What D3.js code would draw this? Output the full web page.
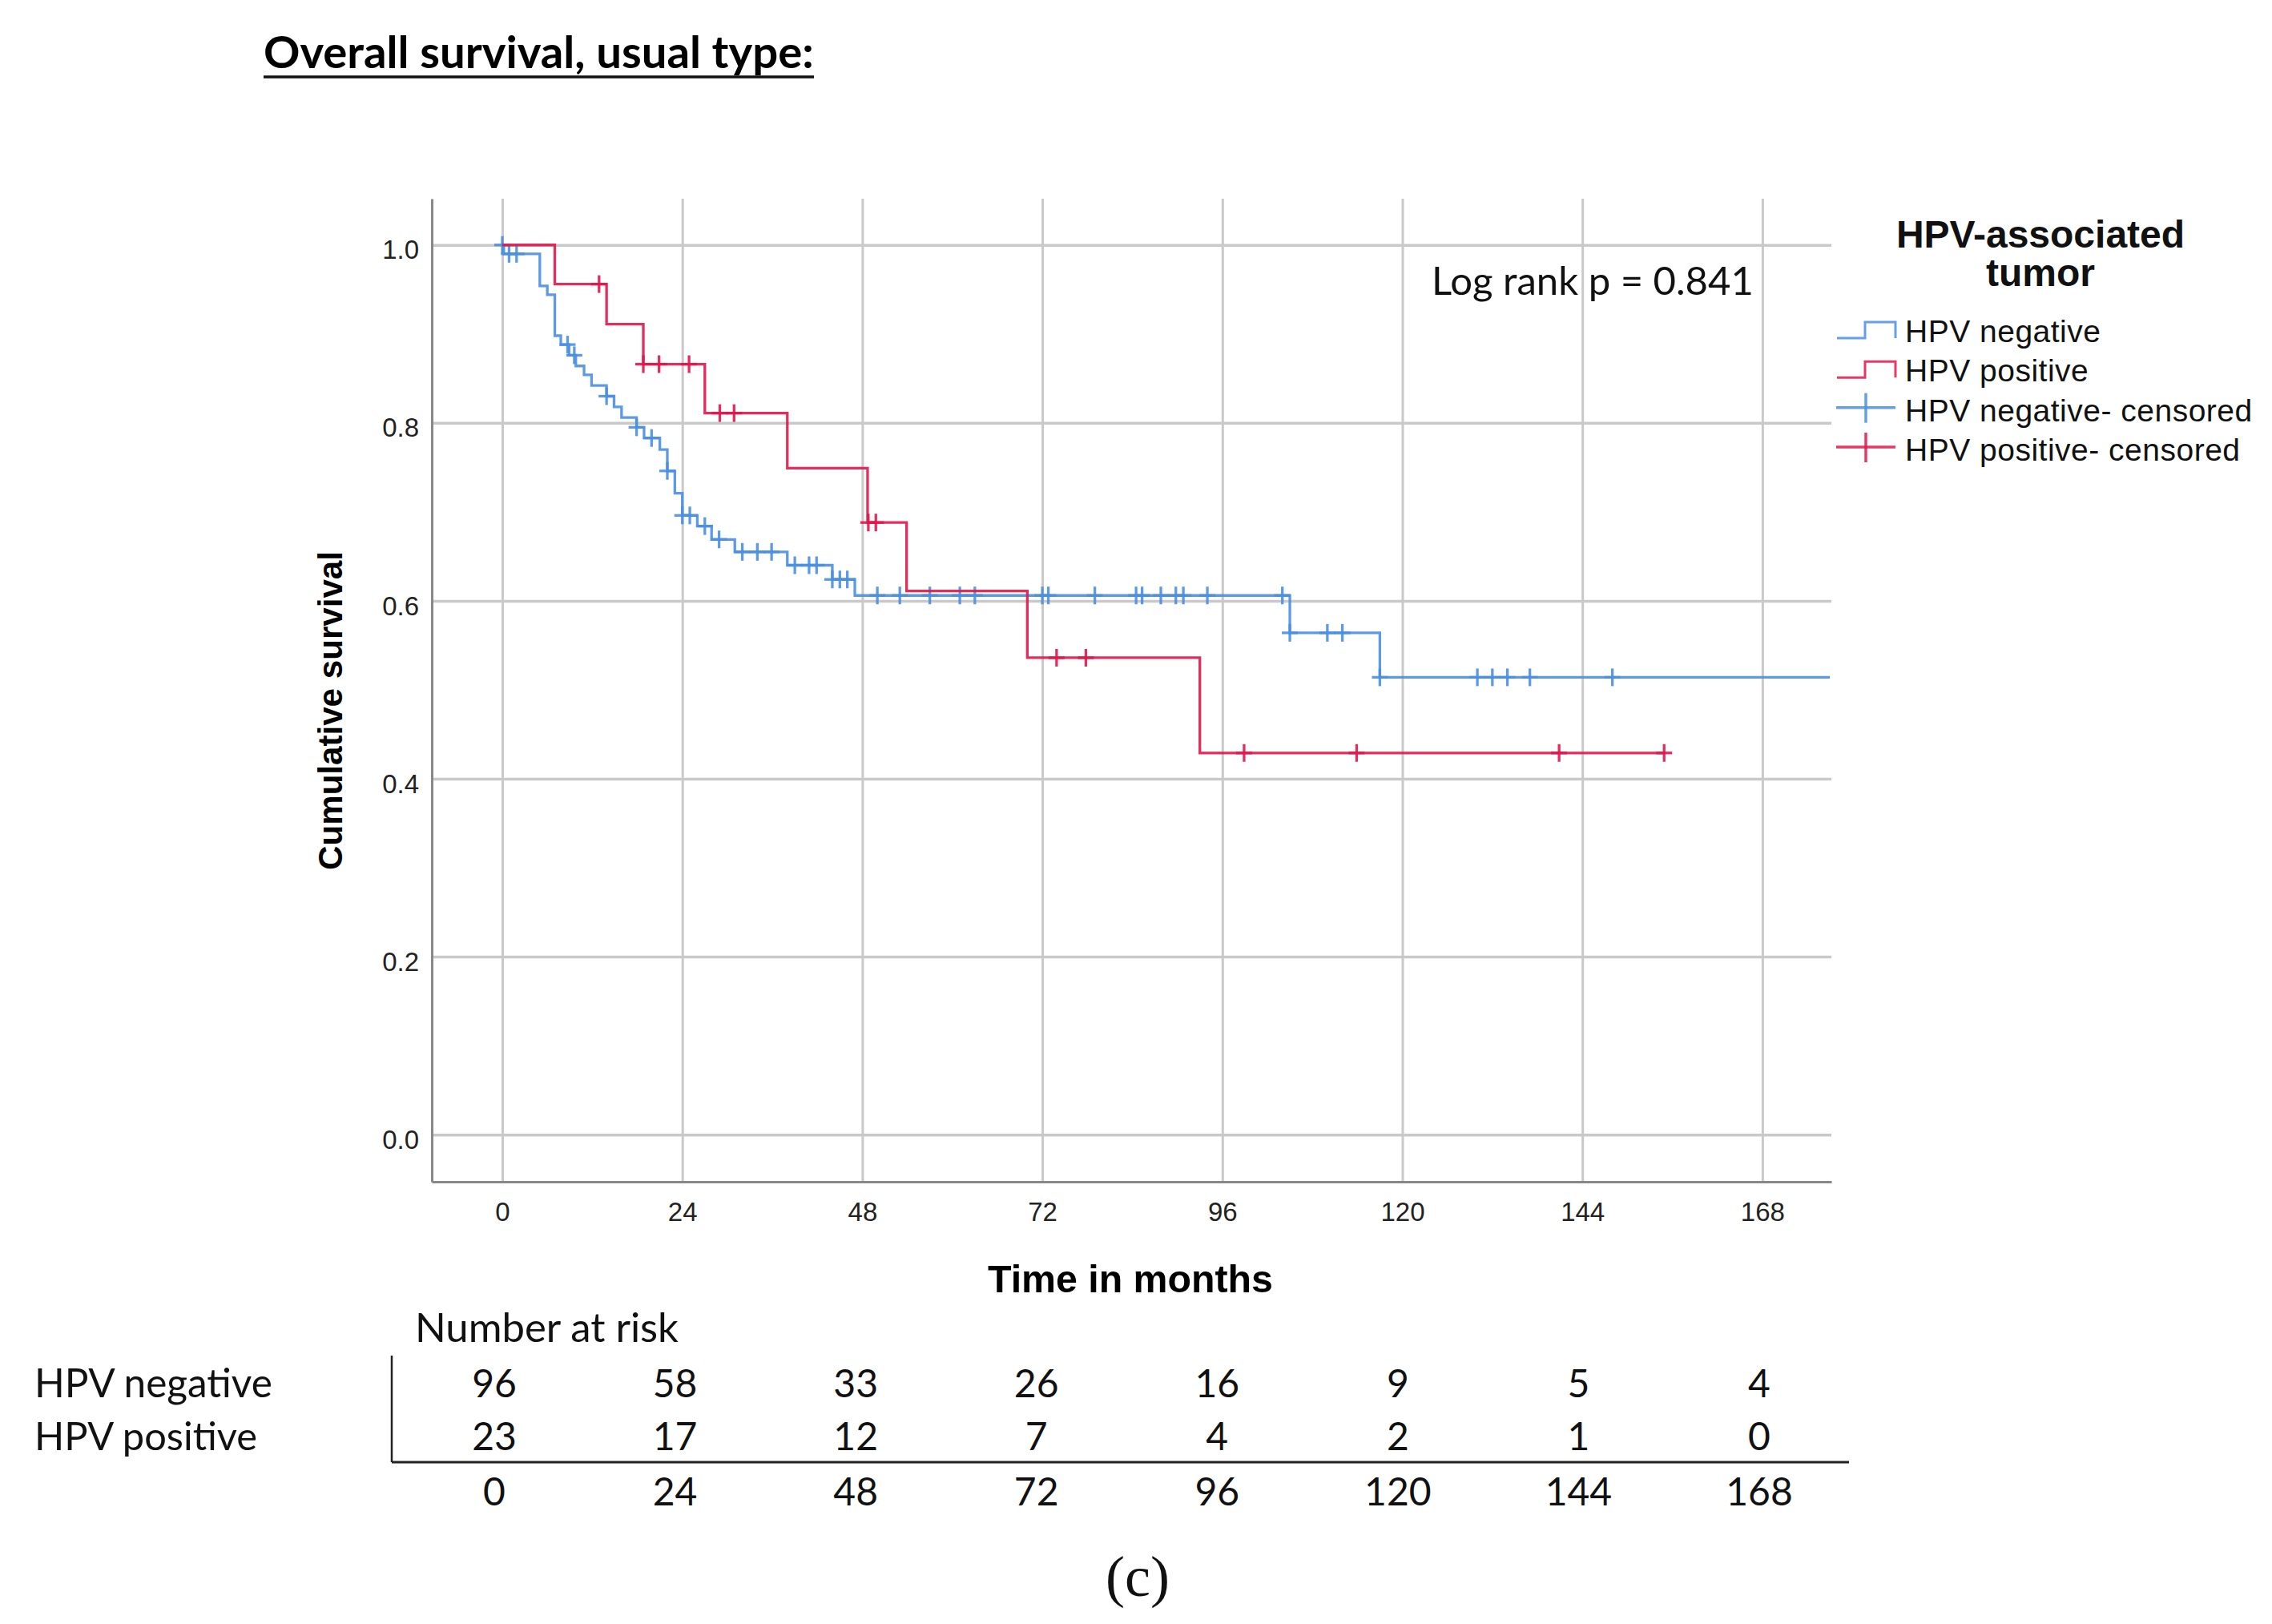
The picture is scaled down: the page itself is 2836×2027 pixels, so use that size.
<!DOCTYPE html>
<html>
<head>
<meta charset="utf-8">
<script src="https://cdn.jsdelivr.net/npm/d3@7"></script>
<style>
  body { margin: 0; background: #fff; }
</style>
</head>
<body>
<svg id="km"></svg>
<script>
// Kaplan-Meier values (time in months, survival after each drop)
var negTimes = [0.2, 5.0, 6.0, 7.0, 7.8, 8.9, 9.8, 10.9, 11.9, 13.9, 14.9, 15.9, 17.9, 18.9, 21.0, 22.0, 23.0, 24.0, 26.0, 27.9, 31.0, 38.0, 44.0, 47.0, 105, 117];
var negSurv  = [0.990, 0.954, 0.944, 0.898, 0.888, 0.876, 0.864, 0.854, 0.842, 0.830, 0.818, 0.806, 0.795, 0.783, 0.770, 0.746, 0.721, 0.696, 0.684, 0.669, 0.655, 0.640, 0.624, 0.606, 0.564, 0.514];
var negEnd = 177;
var negCensored = [0, 0.9, 1.9, 8.7, 9.6, 13.9, 17.9, 19.9, 22.0, 24.0, 25.0, 27.0, 28.9, 32.0, 34.0, 35.9, 39.0, 40.9, 41.9, 44.0, 45.0, 46.0, 50.0, 53.0, 57.0, 61.0, 63.0, 72.0, 72.8, 79.0, 84.5, 85.3, 87.8, 89.8, 90.8, 94.0, 104, 105, 110, 112, 117, 130, 132, 134, 137, 148];

var posTimes = [7.0, 13.9, 18.8, 27.0, 38.0, 48.7, 53.9, 70.0, 93.0];
var posSurv  = [0.956, 0.911, 0.866, 0.811, 0.749, 0.688, 0.611, 0.536, 0.429];
var posEnd = 155;
var posCensored = [12.9, 18.8, 20.9, 24.9, 29.0, 30.9, 48.8, 49.8, 73.9, 77.8, 98.9, 113.9, 140.9, 154.9];

var xTicks = [0, 24, 48, 72, 96, 120, 144, 168];
var yTicks = [0, 0.2, 0.4, 0.6, 0.8, 1.0];

var riskTimes = [0, 24, 48, 72, 96, 120, 144, 168];
var riskNeg = [96, 58, 33, 26, 16, 9, 5, 4];
var riskPos = [23, 17, 12, 7, 4, 2, 1, 0];

var legendLabels = ["HPV negative", "HPV positive", "HPV negative- censored", "HPV positive- censored"];

var blue = "#4a8fe2", red = "#e0174b";
var sans = "'Liberation Sans', Arial, sans-serif";
var calib = "Lato, 'Open Sans', sans-serif";

var svg = d3.select("#km")
    .attr("width", 2836)
    .attr("height", 2027);

// plot box
var plotL = 539, plotR = 2286, plotT = 248, plotB = 1475;

var x = d3.scaleLinear().domain([-9.4, 177.2]).range([plotL, plotR]);
var y = d3.scaleLinear().domain([-0.053, 1.052]).range([plotB, plotT]);

// shrink/grow font so the text fills the width it has in the figure
function fit(sel, target) {
  var fs = parseFloat(sel.attr("font-size"));
  var w = sel.node().getComputedTextLength();
  if (w > 0) sel.attr("font-size", fs * target / w);
  return sel;
}

// title
var title = svg.append("text")
    .attr("x", 329).attr("y", 85)
    .attr("font-family", calib).attr("font-weight", 700)
    .attr("font-size", 58)
    .text("Overall survival, usual type:");
fit(title, 687);
svg.append("line")
    .attr("x1", 329).attr("x2", 1016)
    .attr("y1", 96).attr("y2", 96)
    .attr("stroke", "#111").attr("stroke-width", 3.5);

// grid lines
var gx = svg.append("g")
    .attr("transform", "translate(0," + plotB + ")")
    .call(d3.axisBottom(x).tickValues(xTicks).tickSize(-(plotB - plotT)).tickFormat(""));
gx.select(".domain").remove();
gx.selectAll("line").attr("stroke", "#c9c9c9").attr("stroke-width", 3);

var gy = svg.append("g")
    .attr("transform", "translate(" + plotL + ",0)")
    .call(d3.axisLeft(y).tickValues(yTicks).tickSize(-(plotR - plotL)).tickFormat(""));
gy.select(".domain").remove();
gy.selectAll("line").attr("stroke", "#c9c9c9").attr("stroke-width", 3.5);

// axes
var xAxis = svg.append("g")
    .attr("transform", "translate(0," + plotB + ")")
    .call(d3.axisBottom(x).tickValues(xTicks).tickSize(0).tickSizeOuter(0).tickPadding(26));
var yAxis = svg.append("g")
    .attr("transform", "translate(" + plotL + ",0)")
    .call(d3.axisLeft(y).tickValues(yTicks).tickSize(0).tickSizeOuter(0).tickPadding(16).tickFormat(d3.format(".1f")));

[xAxis, yAxis].forEach(function(a) {
  a.select(".domain").attr("stroke", "#888").attr("stroke-width", 3);
  a.selectAll("text")
    .attr("font-family", sans).attr("font-size", 33).attr("fill", "#222");
});
yAxis.selectAll("text").attr("dy", "0.52em");

// axis titles
var xt = svg.append("text")
    .attr("x", 1411).attr("y", 1613)
    .attr("text-anchor", "middle")
    .attr("font-family", sans).attr("font-weight", 700).attr("font-size", 46)
    .text("Time in months");
fit(xt, 356);

var yt = svg.append("text")
    .attr("transform", "translate(427,887) rotate(-90)")
    .attr("text-anchor", "middle")
    .attr("font-family", sans).attr("font-weight", 700).attr("font-size", 44)
    .text("Cumulative survival");
fit(yt, 398);

// survival curves
function stepPoints(times, surv, end) {
  var pts = [[0, 1]];
  times.forEach(function(t, i) { pts.push([t, surv[i]]); });
  pts.push([end, surv[surv.length - 1]]);
  return pts;
}
function survAt(times, surv, t) {
  var s = 1;
  times.forEach(function(tt, i) { if (tt <= t) s = surv[i]; });
  return s;
}

var line = d3.line()
    .x(function(d) { return x(d[0]); })
    .y(function(d) { return y(d[1]); })
    .curve(d3.curveStepAfter);

var groups = [
  {times: negTimes, surv: negSurv, end: negEnd, cens: negCensored, color: blue},
  {times: posTimes, surv: posSurv, end: posEnd, cens: posCensored, color: red}
];

groups.forEach(function(g) {
  svg.append("path")
    .datum(stepPoints(g.times, g.surv, g.end))
    .attr("fill", "none")
    .attr("stroke", g.color)
    .attr("stroke-width", 3.3)
    .attr("stroke-opacity", 0.9)
    .attr("d", line);

  var marks = svg.append("g")
    .selectAll("g")
    .data(g.cens)
    .enter()
    .append("g")
    .attr("transform", function(t) {
      return "translate(" + x(t) + "," + y(survAt(g.times, g.surv, t)) + ")";
    });
  marks.append("line")
    .attr("x1", 0).attr("x2", 0).attr("y1", -11).attr("y2", 11)
    .attr("stroke", g.color).attr("stroke-width", 3.3).attr("stroke-opacity", 0.9);
  marks.append("line")
    .attr("x1", -10).attr("x2", 10).attr("y1", 0).attr("y2", 0)
    .attr("stroke", g.color).attr("stroke-width", 3.3).attr("stroke-opacity", 0.9);
});

// log rank
var lr = svg.append("text")
    .attr("x", 1787).attr("y", 368)
    .attr("font-family", calib).attr("font-size", 50).attr("fill", "#111")
    .text("Log rank p = 0.841");
fit(lr, 402);

// legend
var lt = svg.append("text")
    .attr("text-anchor", "middle")
    .attr("font-family", sans).attr("font-weight", 700).attr("font-size", 48)
    .attr("fill", "#111");
lt.append("tspan").attr("x", 2547).attr("y", 309).text("HPV-associated");
lt.append("tspan").attr("x", 2547).attr("y", 357).text("tumor");

var legendY = d3.scalePoint().domain(legendLabels).range([427, 575]);
var legendColor = [blue, red, blue, red];

legendLabels.forEach(function(lab, i) {
  var b = legendY(lab);
  if (i < 2) {
    svg.append("path")
      .attr("d", "M2293," + (b - 5) + "H2328V" + (b - 25) + "H2366V" + (b - 5))
      .attr("fill", "none").attr("stroke", legendColor[i]).attr("stroke-width", 3).attr("stroke-opacity", 0.85);
  } else {
    svg.append("line")
      .attr("x1", 2292).attr("x2", 2366).attr("y1", b - 17).attr("y2", b - 17)
      .attr("stroke", legendColor[i]).attr("stroke-width", 3.5).attr("stroke-opacity", 0.85);
    svg.append("line")
      .attr("x1", 2329).attr("x2", 2329).attr("y1", b - 35).attr("y2", b + 2)
      .attr("stroke", legendColor[i]).attr("stroke-width", 3.5).attr("stroke-opacity", 0.85);
  }
  svg.append("text")
    .attr("x", 2378).attr("y", b)
    .attr("font-family", sans).attr("font-size", 39).attr("fill", "#111")
    .attr("letter-spacing", 0.5)
    .text(lab);
});

// number at risk table
var tx = d3.scaleLinear().domain([0, 168]).range([617, 2196]);

var nr = svg.append("text")
    .attr("x", 518).attr("y", 1675)
    .attr("font-family", calib).attr("font-size", 50).attr("fill", "#111")
    .text("Number at risk");
fit(nr, 329);

var rowNeg = svg.append("text")
    .attr("x", 43).attr("y", 1744)
    .attr("font-family", calib).attr("font-size", 50).attr("fill", "#111")
    .text("HPV negative");
fit(rowNeg, 297);
var rowPos = svg.append("text")
    .attr("x", 43).attr("y", 1810)
    .attr("font-family", calib).attr("font-size", 50).attr("fill", "#111")
    .text("HPV positive");
fit(rowPos, 278);

svg.append("line")
    .attr("x1", 489).attr("x2", 489).attr("y1", 1692).attr("y2", 1825)
    .attr("stroke", "#222").attr("stroke-width", 2.5);
svg.append("line")
    .attr("x1", 489).attr("x2", 2308).attr("y1", 1825).attr("y2", 1825)
    .attr("stroke", "#222").attr("stroke-width", 3);

function riskRow(values, base) {
  svg.append("g")
    .selectAll("text")
    .data(values)
    .enter()
    .append("text")
    .attr("x", function(d, i) { return tx(riskTimes[i]); })
    .attr("y", base)
    .attr("text-anchor", "middle")
    .attr("font-family", calib).attr("font-size", 48).attr("fill", "#111")
    .text(function(d) { return d; });
}
riskRow(riskNeg, 1744);
riskRow(riskPos, 1810);
riskRow(riskTimes, 1879);

// panel letter
svg.append("text")
    .attr("x", 1420).attr("y", 1992)
    .attr("text-anchor", "middle")
    .attr("font-family", "'Liberation Serif', 'DejaVu Serif', serif")
    .attr("font-size", 72).attr("fill", "#111")
    .text("(c)");
</script>
</body>
</html>
